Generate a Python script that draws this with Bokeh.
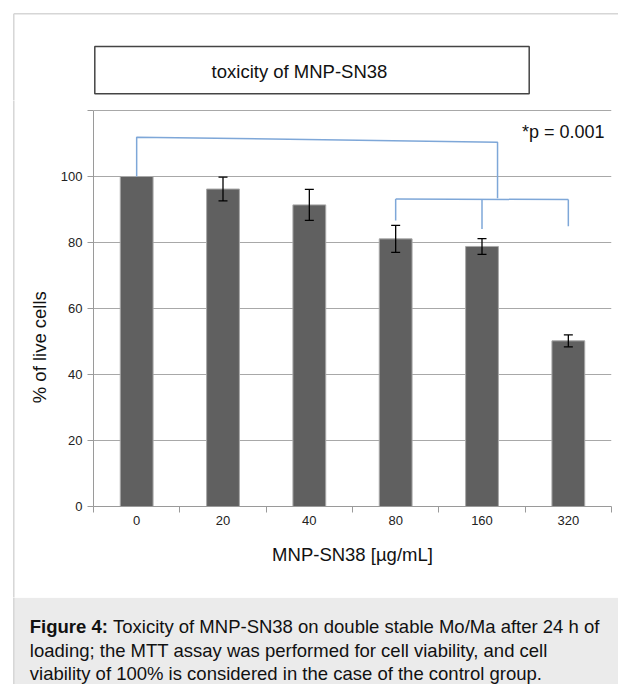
import math
from bokeh.plotting import figure
from bokeh.layouts import column, row
from bokeh.models import Range1d, FixedTicker, ColumnDataSource, Whisker, TeeHead, Label
from bokeh.core.properties import value
from bokeh.embed import file_html
from bokeh.resources import INLINE

# ---- data ----
categories = ["0", "20", "40", "80", "160", "320"]
viability = [100.0, 96.2, 91.4, 81.1, 78.8, 50.2]
error = [0.0, 3.6, 4.7, 4.1, 2.4, 1.8]
y_ticks = [0, 20, 40, 60, 80, 100, 120]
# significance brackets (x in category-slot units, y in % of live cells)
bracket_main_x = [0.5, 0.5, 4.68, 4.68]
bracket_main_y = [100.0, 111.9, 110.4, 93.4]
bracket_group_x = [3.5, 5.5]
bracket_group_y = [93.2, 93.0]
drop_x = [3.5, 4.5, 5.5]
drop_top = [93.2, 93.1, 93.0]
drop_bottom = [86.7, 84.1, 84.9]
p_text = "*p = 0.001"
title_text = "toxicity of MNP-SN38"
x_label = "MNP-SN38 [µg/mL]"
y_label = "% of live cells"
caption_bold = "Figure 4:"
caption_lines = ["Toxicity of MNP-SN38 on double stable Mo/Ma after 24 h of",
                 "loading; the MTT assay was performed for cell viability, and cell",
                 "viability of 100% is considered in the case of the control group."]

FONT = "Liberation Sans"
BIG = "18.5px"
BORDER = "#d6d6d6"
TOTAL_W, TOTAL_H = 618, 684
TOP_H = 100          # page y 0..100
MID_H = 497          # page y 100..597
CAP_H = TOTAL_H - TOP_H - MID_H
STRIP_W = 50


def no_align(f):
    try:
        f.frame_align = False
    except Exception:
        pass
    return f


def deco(width, height, x0, x1, y_top, y_bottom):
    f = figure(width=width, height=height, output_backend="svg", toolbar_location=None,
               x_range=Range1d(x0, x1), y_range=Range1d(y_bottom, y_top),
               x_axis_type=None, y_axis_type=None, min_border=0)
    f.outline_line_color = None
    f.background_fill_color = "white"
    f.border_fill_color = "white"
    return no_align(f)


# ---- top band: outer border + title box ----
top = deco(TOTAL_W, TOP_H, 0, TOTAL_W, 0, TOP_H)
top.line([13.3, TOTAL_W + 5], [13.3, 13.3], line_color=BORDER, line_width=1.5)
top.line([13.3, 13.3], [13.3, TOP_H + 2], line_color=BORDER, line_width=1.5)
top.quad(left=94.3, right=528.7, top=46, bottom=93.3, fill_color="white",
         line_color="#444444", line_width=1.5)
top.text(x=[299], y=[71], text=[title_text], text_align="center", text_baseline="middle",
         text_font=value(FONT), text_font_size=BIG, text_color="#111111")

# ---- left strip: border line + y-axis title ----
strip = deco(STRIP_W, MID_H, 0, STRIP_W, TOP_H, TOP_H + MID_H)
strip.line([13.3, 13.3], [TOP_H - 2, TOP_H + MID_H + 2], line_color=BORDER, line_width=1.5)
strip.text(x=[39.3], y=[346.7], text=[y_label], angle=math.pi / 2, text_align="center",
           text_baseline="middle", text_font=value(FONT), text_font_size=BIG,
           text_color="#111111")

# ---- chart ----
px_per_unit = 3.3
frame_top_pad = 6
y_max = 120 + frame_top_pad / px_per_unit
p = figure(width=TOTAL_W - STRIP_W, height=MID_H, output_backend="svg", toolbar_location=None,
           x_range=Range1d(0, 6), y_range=Range1d(0, y_max),
           min_border_left=93 - STRIP_W, min_border_right=7, min_border_top=110 - TOP_H - frame_top_pad,
           min_border_bottom=TOP_H + MID_H - 506)
no_align(p)
p.background_fill_color = "white"
p.border_fill_color = "white"
p.outline_line_color = None

centers = [i + 0.5 for i in range(len(categories))]
src = ColumnDataSource(dict(x=centers, top=viability, cat=categories))
p.vbar(x="x", top="top", bottom=0, width=0.38, source=src,
       fill_color="#606060", line_color="#a8a8a8", line_width=1)

ex = [c for c, e in zip(centers, error) if e > 0]
eu = [v + e for v, e in zip(viability, error) if e > 0]
el = [v - e for v, e in zip(viability, error) if e > 0]
esrc = ColumnDataSource(dict(x=ex, up=eu, lo=el))
p.add_layout(Whisker(base="x", upper="up", lower="lo", source=esrc, level="annotation",
                     line_color="black", line_width=1.3,
                     upper_head=TeeHead(size=9, line_color="black", line_width=1.3),
                     lower_head=TeeHead(size=9, line_color="black", line_width=1.3)))

blue = "#7ea7d8"
p.line(bracket_main_x, bracket_main_y, line_color=blue, line_width=1.5)
p.line(bracket_group_x, bracket_group_y, line_color=blue, line_width=1.5)
p.segment(x0=drop_x, y0=drop_top, x1=drop_x, y1=drop_bottom, line_color=blue, line_width=1.5)

p.add_layout(Label(x=5.92, y=113.4, text=p_text, text_align="right", text_baseline="middle",
                   text_font=FONT, text_font_size="18px", text_color="#111111"))

xa = p.xaxis[0]
xa.ticker = FixedTicker(ticks=centers, minor_ticks=list(range(0, 7)))
xa.major_label_overrides = {c: n for c, n in zip(centers, categories)}
xa.major_tick_line_color = None
xa.major_tick_out = 0
xa.major_tick_in = 0
xa.minor_tick_line_color = "#9a9a9a"
xa.minor_tick_out = 6
xa.minor_tick_in = 0
xa.axis_line_color = "#9a9a9a"
xa.major_label_text_font = FONT
xa.major_label_text_font_size = "13px"
xa.major_label_text_color = "#222222"
xa.major_label_standoff = 3
xa.axis_label = x_label
xa.axis_label_text_font = FONT
xa.axis_label_text_font_size = BIG
xa.axis_label_text_font_style = "normal"
xa.axis_label_text_color = "#111111"
xa.axis_label_standoff = 16

ya = p.yaxis[0]
ya.ticker = FixedTicker(ticks=y_ticks)
ya.bounds = (0, 120)
ya.major_label_overrides = {120: ""}
ya.major_tick_line_color = "#9a9a9a"
ya.major_tick_out = 6
ya.major_tick_in = 0
ya.minor_tick_line_color = None
ya.axis_line_color = "#9a9a9a"
ya.major_label_text_font = FONT
ya.major_label_text_font_size = "13px"
ya.major_label_text_color = "#222222"
ya.major_label_standoff = 5

p.xgrid.grid_line_color = None
p.ygrid.ticker = FixedTicker(ticks=y_ticks)
p.ygrid.grid_line_color = "#a8a8a8"
p.ygrid.grid_line_width = 1

# ---- caption band ----
cap = deco(TOTAL_W, CAP_H, 0, TOTAL_W, TOP_H + MID_H, TOTAL_H)
cap.quad(left=13.3, right=TOTAL_W + 5, top=597.3, bottom=TOTAL_H + 5,
         fill_color="#ebebeb", line_color=None)
cap.line([13.3, 13.3], [TOP_H + MID_H - 2, TOTAL_H + 5], line_color=BORDER, line_width=1.5)
cap.text(x=[29.3], y=[626.3], text=[caption_bold], text_align="left", text_baseline="alphabetic",
         text_font=value(FONT), text_font_size=BIG, text_font_style="bold",
         text_color="#111111")
cap.text(x=[112.5], y=[626.3], text=[caption_lines[0]], text_align="left",
         text_baseline="alphabetic", text_font=value(FONT), text_font_size=BIG,
         text_color="#111111")
cap.text(x=[29.3, 29.3], y=[649.6, 672.9], text=caption_lines[1:], text_align="left",
         text_baseline="alphabetic", text_font=value(FONT), text_font_size=BIG,
         text_color="#111111")

layout = column(top, row(strip, p), cap)
open("out.html", "w").write(file_html(layout, INLINE))
